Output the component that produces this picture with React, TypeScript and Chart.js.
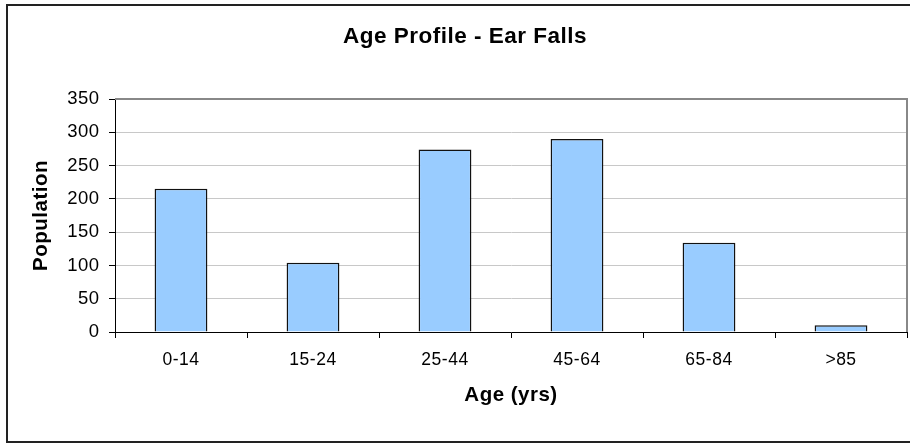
import React, { useEffect, useRef } from "react";
import { Chart, registerables } from "chart.js";

Chart.register(...registerables);

const categories = ["0-14", "15-24", "25-44", "45-64", "65-84", ">85"];
const population = [215, 104, 274, 290, 134, 10];
const yTicks = [0, 50, 100, 150, 200, 250, 300, 350];

const chartTitle = "Age Profile - Ear Falls";
const xTitle = "Age (yrs)";
const yTitle = "Population";

const FONT = "'Liberation Sans', Arial, Helvetica, sans-serif";
const SPACING = "0.5px";

const spacingPlugin = {
  id: "spacing",
  beforeUpdate(chart: any) {
    (chart.ctx as any).letterSpacing = SPACING;
  },
  beforeLayout(chart: any) {
    (chart.ctx as any).letterSpacing = SPACING;
  },
  beforeDraw(chart: any) {
    (chart.ctx as any).letterSpacing = SPACING;
  },
};

const framePlugin = {
  id: "frame",
  afterDraw(chart: any) {
    const { ctx, chartArea } = chart;
    ctx.save();
    ctx.strokeStyle = "#888888";
    ctx.lineWidth = 2;
    ctx.beginPath();
    ctx.moveTo(chartArea.left, chartArea.top);
    ctx.lineTo(chartArea.right, chartArea.top);
    ctx.lineTo(chartArea.right, chartArea.bottom);
    ctx.stroke();
    ctx.restore();
  },
};

export default function App() {
  const ref = useRef<HTMLCanvasElement | null>(null);

  useEffect(() => {
    if (!ref.current) return;
    const chart = new Chart(ref.current, {
      type: "bar",
      data: {
        labels: categories,
        datasets: [
          {
            label: yTitle,
            data: population,
            backgroundColor: "#99CCFF",
            borderColor: "#111111",
            borderWidth: 1.5,
            barPercentage: 0.4,
            categoryPercentage: 1,
          },
        ],
      },
      options: {
        responsive: false,
        animation: false,
        layout: { padding: { left: 23, right: 3, top: 0, bottom: 0 } },
        plugins: {
          legend: { display: false },
          tooltip: { enabled: false },
          title: {
            display: true,
            text: chartTitle,
            color: "#000",
            font: { family: FONT, size: 22.5, weight: "bold" },
            padding: { top: 23.5, bottom: 48.5 },
          },
        },
        scales: {
          x: {
            afterFit: (s: any) => {
              s.height = 111;
            },
            grid: {
              display: true,
              offset: true,
              drawOnChartArea: false,
              drawTicks: true,
              tickLength: 6,
              color: "#000",
              tickColor: "#000",
            },
            border: { display: true, color: "#000", width: 1 },
            ticks: {
              color: "#000",
              font: { family: FONT, size: 17.5 },
              padding: 12,
              maxRotation: 0,
            },
            title: {
              display: true,
              text: xTitle,
              color: "#000",
              font: { family: FONT, size: 20.5, weight: "bold" },
              padding: { top: 0, bottom: 35.7 },
            },
          },
          y: {
            min: 0,
            max: 350,
            afterFit: (s: any) => {
              s.width = 92;
            },
            afterBuildTicks: (s: any) => {
              s.ticks = yTicks.map((v) => ({ value: v }));
            },
            grid: {
              color: "#c8c8c8",
              tickColor: "#000",
              tickLength: 6,
              lineWidth: 1,
            },
            border: { display: true, color: "#000", width: 1 },
            ticks: {
              color: "#000",
              font: { family: FONT, size: 18.5 },
              padding: 9.5,
              stepSize: 50,
            },
            title: {
              display: true,
              text: yTitle,
              color: "#000",
              font: { family: FONT, size: 20.5, weight: "bold" },
              padding: { top: 6.4, bottom: 0 },
            },
          },
        },
      },
      plugins: [spacingPlugin, framePlugin],
    } as any);
    return () => chart.destroy();
  }, []);

  return (
    <div style={{ position: "fixed", left: 0, top: 0, width: 910, height: 443, overflow: "hidden", background: "#fff" }}>
      <div
        style={{
          position: "absolute",
          left: 6,
          top: 4,
          width: 920,
          height: 435,
          border: "2px solid #222",
        }}
      />
      <canvas ref={ref} width={910} height={443} style={{ position: "absolute", left: 0, top: 0, display: "block" }} />
    </div>
  );
}
